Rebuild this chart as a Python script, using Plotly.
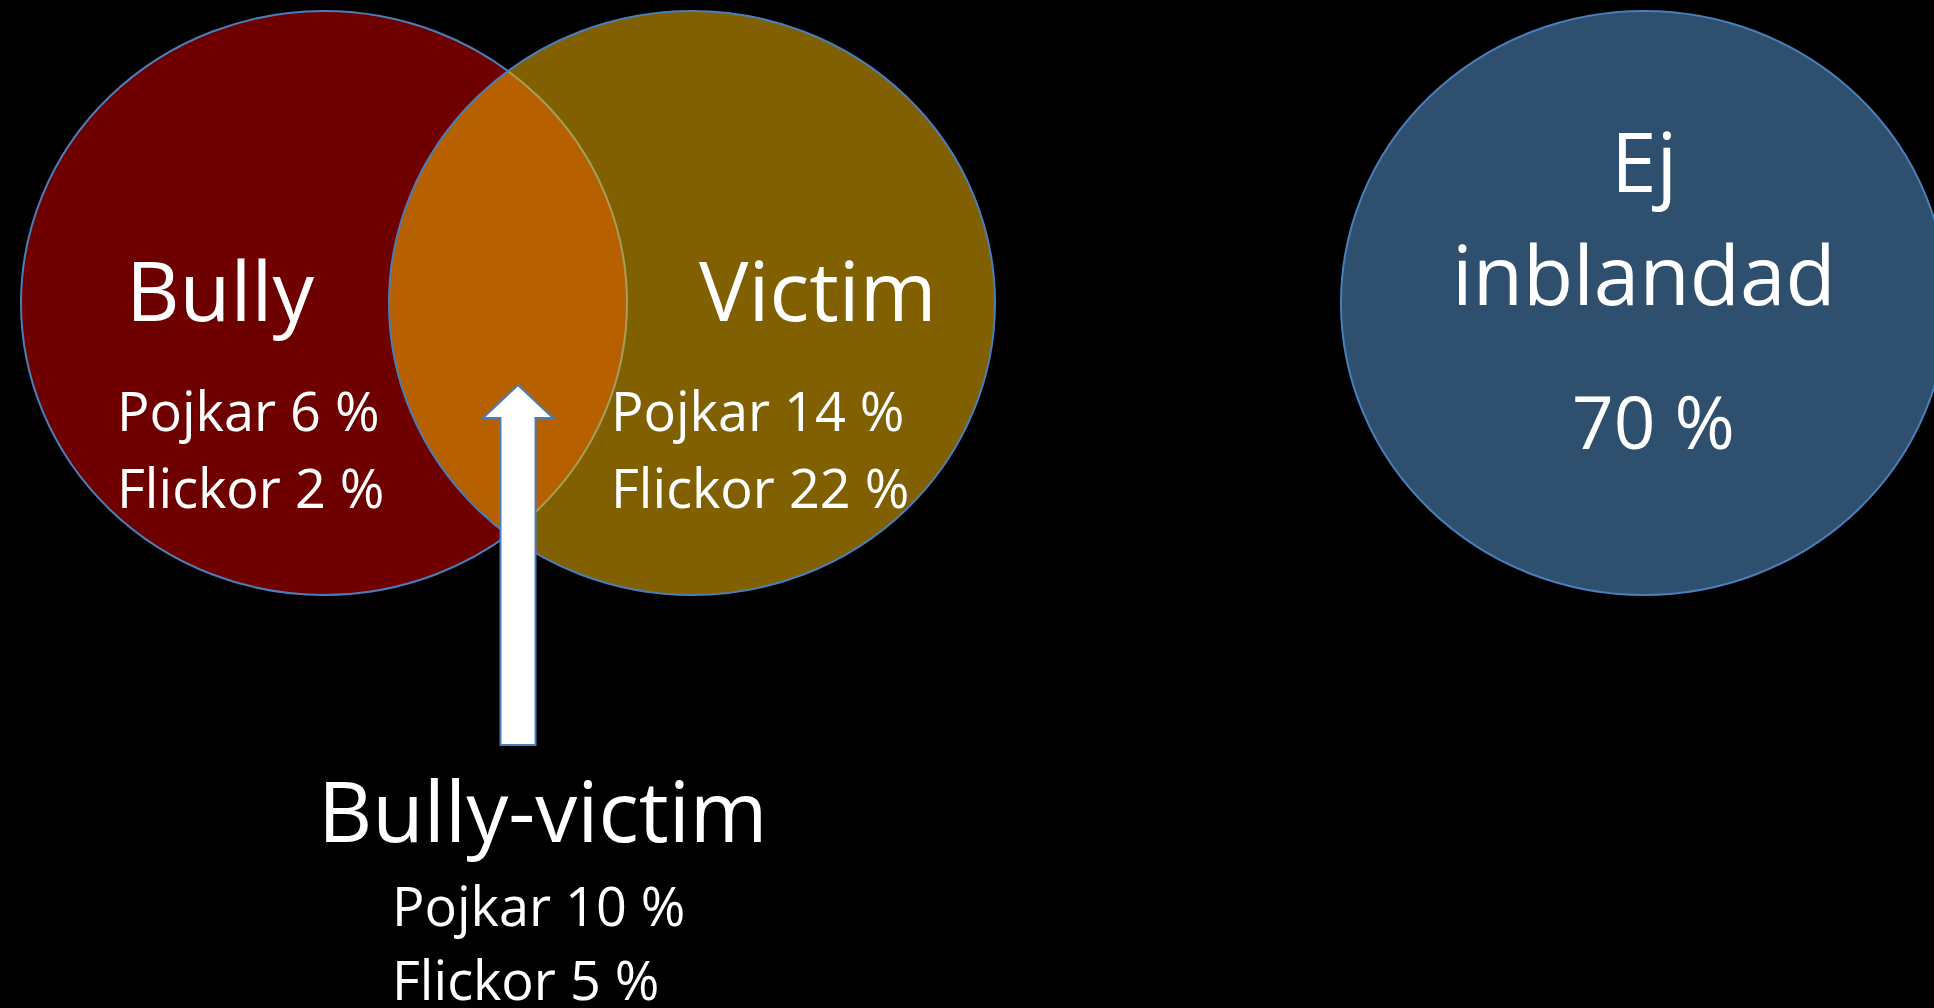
import plotly.graph_objects as go

# grupper och andelar (procent)
groups = ["Bully", "Victim", "Bully-victim"]
pojkar = [6, 14, 10]
flickor = [2, 22, 5]
ej_label = ["Ej", "inblandad"]
ej_inblandad = 70

W, H = 1934, 1008
FONT = "Open Sans"
EDGE = "#4A7EBB"

fig = go.Figure()

# venn-ellipser
fig.add_shape(type="circle", x0=21, x1=627, y0=11, y1=595,
              fillcolor="#6F0000", line=dict(color=EDGE, width=2))
fig.add_shape(type="circle", x0=389, x1=995, y0=11, y1=595,
              fillcolor="rgba(255,192,0,0.5)", line=dict(color=EDGE, width=2))
fig.add_shape(type="circle", x0=1341, x1=1947, y0=11, y1=595,
              fillcolor="#2E4F6D", line=dict(color=EDGE, width=2))

# pil upp mot snittet
ax, a_half, h_half = 518, 17.5, 35
fig.add_shape(type="path",
              path=f"M {ax-a_half} 745 L {ax-a_half} 418 L {ax-h_half} 418 L {ax} 385 "
                   f"L {ax+h_half} 418 L {ax+a_half} 418 L {ax+a_half} 745 Z",
              fillcolor="white", line=dict(color=EDGE, width=2))


def txt(x, y, s, size, anchor="center"):
    fig.add_annotation(x=x, y=y, text=s, showarrow=False, xanchor=anchor, yanchor="middle",
                       font=dict(family=FONT, size=size, color="white"))


# rubriker
txt(220, 288, groups[0], 83)
txt(818, 288, groups[1], 83)
txt(543, 809, groups[2], 84)

# andelar
txt(115, 410, f"Pojkar {pojkar[0]} %", 54, "left")
txt(115, 487, f"Flickor {flickor[0]} %", 54, "left")
txt(609, 410, f"Pojkar {pojkar[1]} %", 54, "left")
txt(609, 487, f"Flickor {flickor[1]} %", 54, "left")
txt(390, 905, f"Pojkar {pojkar[2]} %", 54, "left")
txt(390, 979, f"Flickor {flickor[2]} %", 54, "left")

# ej inblandad
txt(1644, 160, ej_label[0], 82)
txt(1644, 273, ej_label[1], 82)
txt(1653, 420, f"{ej_inblandad} %", 73)

fig.update_xaxes(range=[0, W], visible=False, fixedrange=True)
fig.update_yaxes(range=[H, 0], visible=False, fixedrange=True)
fig.update_layout(width=W, height=H, margin=dict(l=0, r=0, t=0, b=0),
                  paper_bgcolor="black", plot_bgcolor="black", showlegend=False)

fig.write_html("out.html", config={"displayModeBar": False},
               post_script="document.body.style.margin='0';document.body.style.background='black';")
